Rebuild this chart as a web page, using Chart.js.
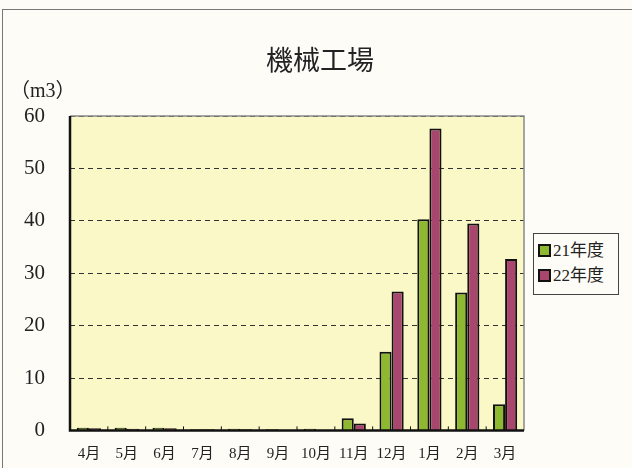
<!DOCTYPE html>
<html>
<head>
<meta charset="utf-8">
<script src="https://cdn.jsdelivr.net/npm/chart.js@4.4.0/dist/chart.umd.min.js"></script>
<style>
  html, body { margin: 0; padding: 0; background: #fdfcf7; }
  #wrap { position: relative; width: 632px; height: 468px; overflow: hidden; }
  #frame { position: absolute; left: 2px; top: 9px; width: 700px; height: 500px;
           border-top: 1px solid #777; border-left: 1px solid #777; }
  #title { position: absolute; left: 0; width: 640px; top: 39px; text-align: center;
           font: 27px "Noto Sans CJK JP", sans-serif; color: #222; }
  #unit { position: absolute; left: 10px; top: 74px; font: 20px "Liberation Serif", "Noto Sans CJK JP", serif; color: #222; }
  #legend { position: absolute; left: 533px; top: 233px; width: 84px; height: 60px;
            border: 1px solid #444; background: #fdfcf7;
            font: 17px "Liberation Serif", "Noto Sans CJK JP", serif; color: #222; }
  #legend div { height: 25px; line-height: 25px; padding-left: 4px; margin-top: 4px; }
  #legend span { display: inline-block; width: 9px; height: 9px; border: 2px solid #111;
                 margin-right: 2px; vertical-align: -1px; }
  canvas { position: absolute; left: 0; top: 0; }
</style>
</head>
<body>
<div id="wrap">
  <div id="frame"></div>
  <canvas id="chart" width="632" height="468"></canvas>
  <div id="title">機械工場</div>
  <div id="unit">（m3）</div>
  <div id="legend">
    <div><span style="background:#8db830"></span>21年度</div>
    <div style="margin-top:0"><span style="background:#a8466e"></span>22年度</div>
  </div>
</div>
<script>
const months = ['4月', '5月', '6月', '7月', '8月', '9月', '10月', '11月', '12月', '1月', '2月', '3月'];
const fy21 = [0.5, 0.5, 0.5, 0.2, 0.3, 0.2, 0.3, 2.3, 15, 40.3, 26.3, 5];
const fy22 = [0.4, 0.3, 0.4, 0.2, 0.2, 0.1, 0, 1.3, 26.5, 57.6, 39.5, 32.7];
const yTicks = [0, 10, 20, 30, 40, 50, 60];

const plotBg = {
    id: 'plotBg',
    beforeDraw(chart) {
        const { ctx, chartArea: a } = chart;
        ctx.save();
        ctx.fillStyle = '#faf8c6';
        ctx.fillRect(a.left, a.top, a.right - a.left, a.bottom - a.top);
        ctx.restore();
    },
    afterDatasetsDraw(chart) {
        const { ctx, chartArea: a } = chart;
        ctx.save();
        ctx.strokeStyle = '#888';
        ctx.lineWidth = 1.5;
        ctx.beginPath();
        ctx.moveTo(a.left, a.top);
        ctx.lineTo(a.right, a.top);
        ctx.lineTo(a.right, a.bottom);
        ctx.stroke();
        ctx.strokeStyle = '#111';
        ctx.lineWidth = 2.5;
        ctx.beginPath();
        ctx.moveTo(a.left, a.top);
        ctx.lineTo(a.left, a.bottom);
        ctx.lineTo(a.right, a.bottom);
        ctx.stroke();
        // small category ticks on the bottom axis
        const x = chart.scales.x;
        ctx.lineWidth = 1;
        for (let i = 1; i < months.length; i++) {
            const px = (x.getPixelForValue(i - 1) + x.getPixelForValue(i)) / 2;
            ctx.beginPath();
            ctx.moveTo(px, a.bottom);
            ctx.lineTo(px, a.bottom - 4);
            ctx.stroke();
        }
        ctx.restore();
    }
};

new Chart(document.getElementById('chart'), {
    type: 'bar',
    data: {
        labels: months,
        datasets: [
            { label: '21年度', data: fy21, backgroundColor: '#8db830', borderColor: '#111', borderWidth: 2 },
            { label: '22年度', data: fy22, backgroundColor: '#a8466e', borderColor: '#111', borderWidth: 2 }
        ]
    },
    options: {
        responsive: false,
        animation: false,
        layout: { padding: { left: 0, top: 116, right: 108, bottom: 0 } },
        plugins: { legend: { display: false }, tooltip: { enabled: false } },
        datasets: { bar: { categoryPercentage: 0.64, barPercentage: 1 } },
        scales: {
            x: {
                afterFit(axis) { axis.height = 37; },
                grid: { display: false },
                border: { display: false },
                ticks: { color: '#222', padding: 7, maxRotation: 0,
                         font: { family: '"Liberation Serif", "Noto Sans CJK JP", serif', size: 15 } }
            },
            y: {
                min: 0, max: 60,
                afterFit(axis) { axis.width = 70; },
                afterBuildTicks(axis) { axis.ticks = yTicks.map(v => ({ value: v })); },
                grid: { color: '#333', lineWidth: 1, drawTicks: false },
                border: { display: false, dash: [5, 4] },
                ticks: { color: '#222', padding: 25,
                         font: { family: '"Liberation Serif", serif', size: 21 } }
            }
        }
    },
    plugins: [plotBg]
});
</script>
</body>
</html>
